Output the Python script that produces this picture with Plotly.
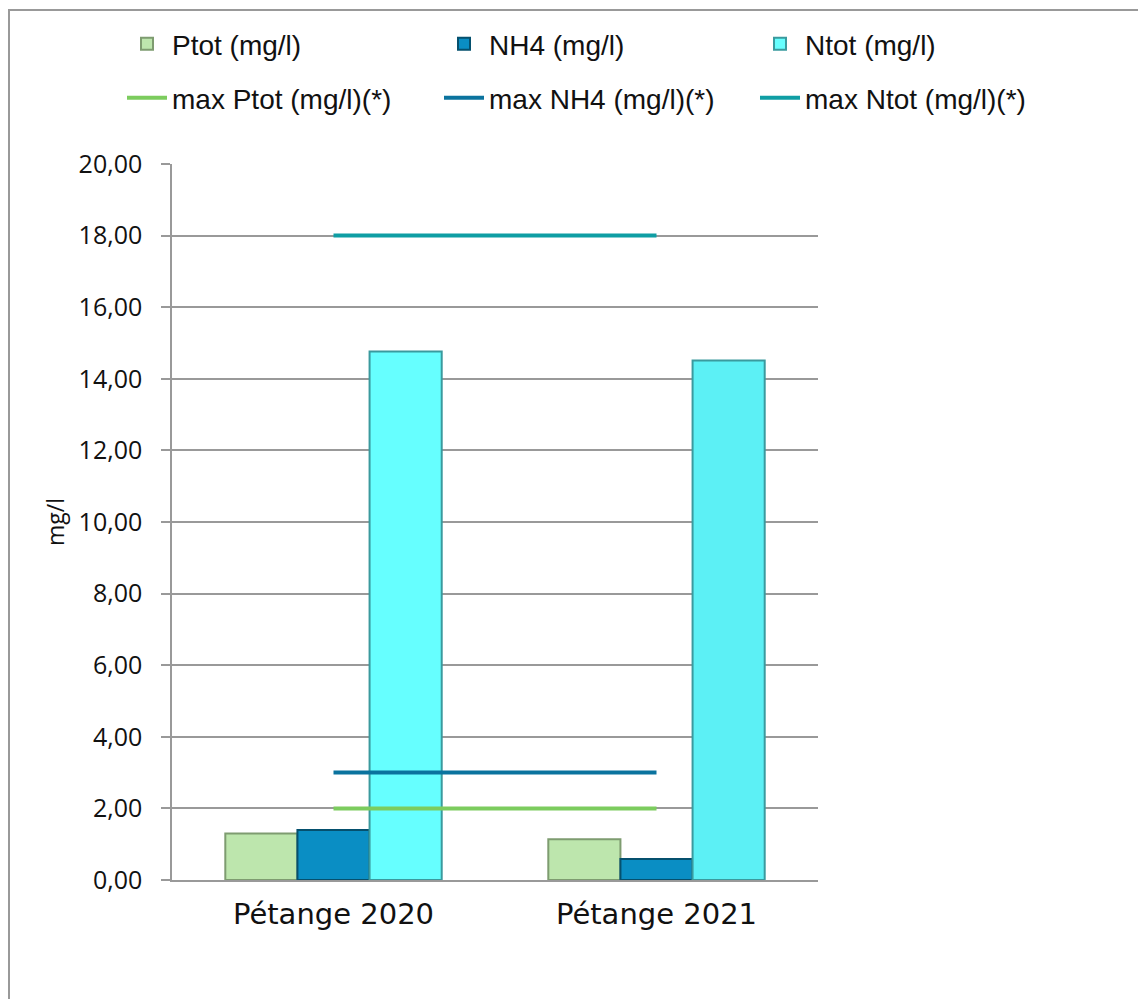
import plotly.graph_objects as go

categories = ["Pétange 2020", "Pétange 2021"]
ptot = [1.30, 1.14]
nh4 = [1.40, 0.59]
ntot = [14.76, 14.51]
max_ptot = [2.0, 2.0]
max_nh4 = [3.0, 3.0]
max_ntot = [18.0, 18.0]
y_ticks = [0, 2, 4, 6, 8, 10, 12, 14, 16, 18, 20]

# the page adds an 8px body margin; layout below is expressed in page pixels
OFF = 8
PL, PT, PR, PB = 172.0, 164.0, 818.0, 880.0   # plot area on the page
PW, PH = PR - PL, PB - PT

def px_x(x):
    return (x - PL) / PW

def px_y(y):
    return (PB - y) / PH

fig = go.Figure()
fig.add_trace(go.Bar(x=categories, y=ptot, name="Ptot (mg/l)",
                     marker=dict(color="#bde6ad", line=dict(color="#7e9c70", width=2)),
                     legend="legend", showlegend=True))
fig.add_trace(go.Bar(x=categories, y=nh4, name="NH4 (mg/l)",
                     marker=dict(color="#0a8ec4", line=dict(color="#05506e", width=2)),
                     legend="legend2"))
fig.add_trace(go.Bar(x=categories, y=ntot, name="Ntot (mg/l)",
                     marker=dict(color=["#66ffff", "#5cf0f5"], line=dict(color="#3a9a9e", width=2)),
                     legend="legend3"))
fig.add_trace(go.Scatter(x=categories, y=max_ptot, name="max Ptot (mg/l)(*)", mode="lines",
                         line=dict(color="#7ccc5e", width=4), legend="legend4"))
fig.add_trace(go.Scatter(x=categories, y=max_nh4, name="max NH4 (mg/l)(*)", mode="lines",
                         line=dict(color="#0b739e", width=4), legend="legend5"))
fig.add_trace(go.Scatter(x=categories, y=max_ntot, name="max Ntot (mg/l)(*)", mode="lines",
                         line=dict(color="#0f9ea4", width=4), legend="legend6"))

legend_font = dict(family="Liberation Sans, Arial, sans-serif", size=28, color="#111111")
col_x = [122, 439, 755]
row_y = [19, 73]

def leg(col, row):
    return dict(orientation="v", x=px_x(col_x[col]), y=px_y(row_y[row]),
                xanchor="left", yanchor="top", font=legend_font,
                bgcolor="rgba(0,0,0,0)", itemwidth=40)

fig.update_layout(
    width=1146, height=999,
    showlegend=True,
    paper_bgcolor="white", plot_bgcolor="white",
    margin=dict(l=PL - OFF, r=1146 - (PR - OFF), t=PT - OFF, b=999 - (PB - OFF), autoexpand=False),
    barmode="group", bargap=0.33, bargroupgap=0,
    separators=", ",
    font=dict(family="Open Sans, sans-serif", color="#111111"),
    legend=leg(0, 0), legend2=leg(1, 0), legend3=leg(2, 0),
    legend4=leg(0, 1), legend5=leg(1, 1), legend6=leg(2, 1),
    shapes=[dict(type="rect", xref="paper", yref="paper",
                 x0=px_x(9), x1=px_x(1160), y0=px_y(1015), y1=px_y(10),
                 line=dict(color="#999999", width=2), fillcolor="rgba(0,0,0,0)", layer="below")],
)
fig.update_yaxes(range=[0, 20], tickvals=y_ticks, tickformat=".2f",
                 showgrid=True, gridcolor="#999999", gridwidth=1.5,
                 showline=True, linecolor="#999999", linewidth=1.5,
                 ticks="outside", ticklen=9, tickcolor="#999999", tickwidth=1.5,
                 ticklabelstandoff=14,
                 tickfont=dict(family="Open Sans, sans-serif", size=25, color="#111111"),
                 title=dict(text="mg/l", font=dict(family="Open Sans, sans-serif", size=23, color="#111111"),
                            standoff=8),
                 zeroline=False)
fig.update_xaxes(showline=True, linecolor="#999999", linewidth=1.5, ticks="",
                 tickfont=dict(family="DejaVu Sans, sans-serif", size=29, color="#111111"),
                 ticklabelstandoff=7)

fig.write_html("out.html")
